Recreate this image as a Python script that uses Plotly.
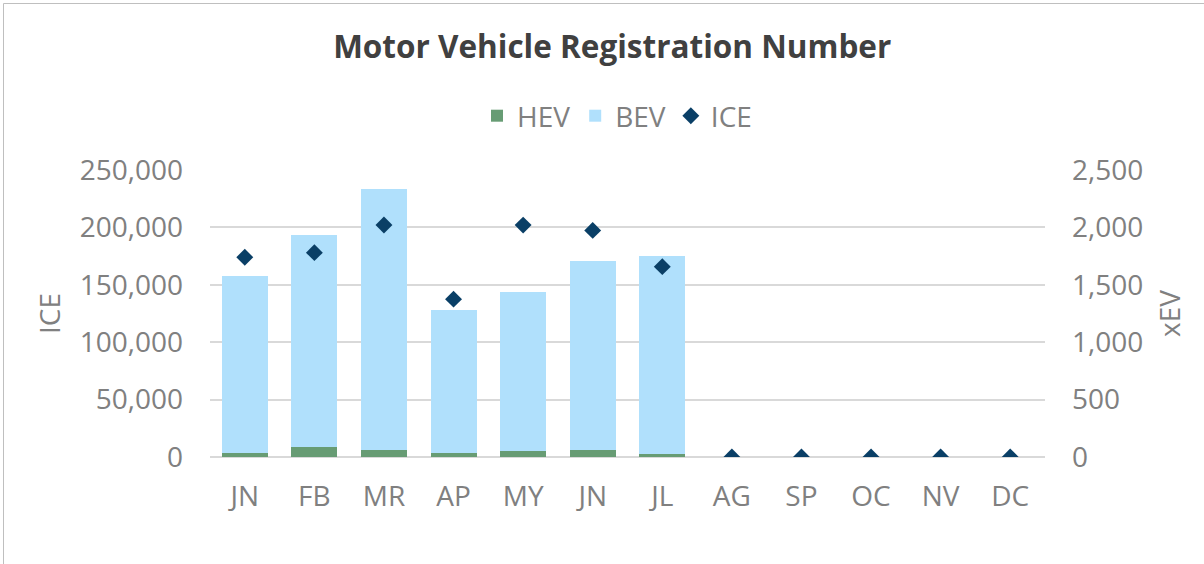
import plotly.graph_objects as go

months = ["JN", "FB", "MR", "AP", "MY", "JN ", "JL", "AG", "SP", "OC", "NV", "DC"]
month_labels = ["JN", "FB", "MR", "AP", "MY", "JN", "JL", "AG", "SP", "OC", "NV", "DC"]
hev = [32, 85, 59, 32, 50, 59, 28, 0, 0, 0, 0, 0]
bev = [1547, 1851, 2274, 1246, 1386, 1646, 1726, 0, 0, 0, 0, 0]
ice = [174000, 178000, 202100, 137500, 202000, 197400, 165800, 0, 0, 0, 0, 0]

W, H = 1204, 564
L, R, T, B = 210, 159, 170, 107
FONT = "Open Sans"
GRAY = "#808080"
FS = 28

fig = go.Figure()
fig.add_trace(go.Bar(x=months, y=hev, name="HEV", marker=dict(color="#679c74", line=dict(width=0)), yaxis="y"))
fig.add_trace(go.Bar(x=months, y=bev, name="BEV", marker=dict(color="#b0e0fc", line=dict(width=0)), yaxis="y"))
fig.add_trace(go.Scatter(x=months, y=ice, name="ICE", mode="markers",
                         marker=dict(symbol="diamond", size=13, color="#0a3f66"), yaxis="y2"))

pw = W - L - R
ph = H - T - B
# chart frame (top and left edges visible)
fig.add_shape(type="line", xref="paper", yref="paper",
              x0=(3.5 - L) / pw, x1=(W + 20 - L) / pw,
              y0=(H - 3.5 - B) / ph, y1=(H - 3.5 - B) / ph,
              line=dict(color="#bfbfbf", width=1), layer="above")
fig.add_shape(type="line", xref="paper", yref="paper",
              x0=(3.5 - L) / pw, x1=(3.5 - L) / pw,
              y0=(-20 - B) / ph, y1=(H - 3.5 - B) / ph,
              line=dict(color="#bfbfbf", width=1), layer="above")

fig.update_layout(
    width=W, height=H,
    margin=dict(l=L, r=R, t=T, b=B, autoexpand=False),
    paper_bgcolor="white", plot_bgcolor="white",
    barmode="stack", bargap=0.34,
    font=dict(family=FONT, color=GRAY, size=FS),
    title=dict(text="<b>Motor Vehicle Registration Number</b>", x=0.5085, xanchor="center",
               y=1 - 47 / H, yanchor="middle",
               font=dict(family=FONT, size=31.5, color="#404040")),
    legend=dict(orientation="h", x=(617 - L) / pw, xanchor="center", y=1 - 116 / H, yanchor="middle",
                yref="container", traceorder="normal", font=dict(size=FS, color=GRAY),
                itemwidth=30),
    showlegend=True,
    xaxis=dict(tickmode="array", tickvals=months, ticktext=month_labels, range=[-0.5, 11.5],
               showgrid=False, showline=False, ticks="", tickfont=dict(size=FS, color=GRAY),
               ticklabelstandoff=20),
    yaxis=dict(side="right", range=[0, 2500], tickvals=[0, 500, 1000, 1500, 2000, 2500],
               tickformat=",", showgrid=True, gridcolor="#d9d9d9", gridwidth=1.5,
               zeroline=True, zerolinecolor="#d9d9d9", zerolinewidth=2,
               title=dict(text="xEV", font=dict(size=FS, color=GRAY), standoff=18),
               ticks="", ticklabelstandoff=26, tickfont=dict(size=FS, color=GRAY)),
    yaxis2=dict(side="left", overlaying="y", range=[0, 250000],
                tickvals=[0, 50000, 100000, 150000, 200000, 250000], tickformat=",",
                showgrid=False, zeroline=False,
                title=dict(text="ICE", font=dict(size=FS, color=GRAY), standoff=10),
                ticks="", ticklabelstandoff=26, tickfont=dict(size=FS, color=GRAY)),
)

fig.write_html("out.html", config={"displayModeBar": False},
               post_script="document.body.style.margin='0';document.body.style.overflow='hidden';")
